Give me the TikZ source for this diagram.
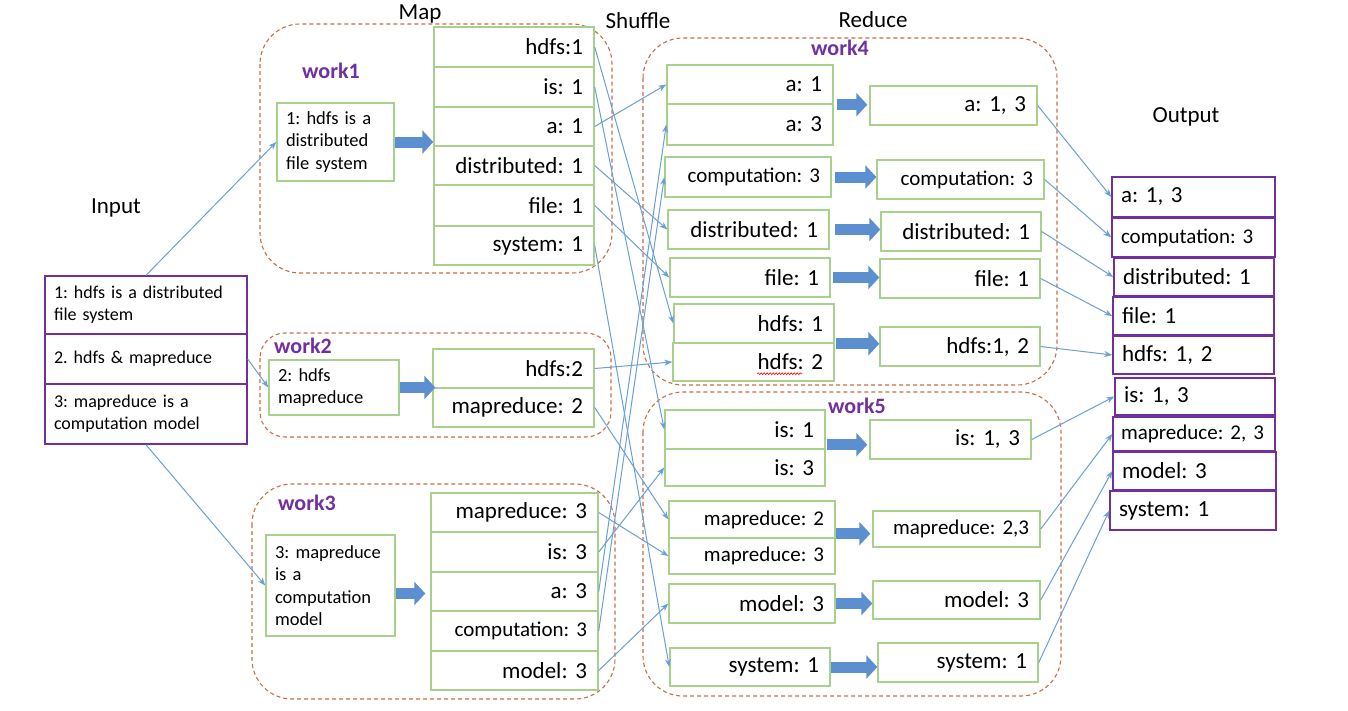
\documentclass[tikz,border=0pt]{standalone}
\usepackage{fontspec}
\setmainfont{Carlito}
\frenchspacing
\usetikzlibrary{arrows.meta,calc,decorations.pathmorphing}
\definecolor{gboxc}{HTML}{A9D18E}
\definecolor{purp}{HTML}{7030A0}
\definecolor{connc}{HTML}{6A9FD8}
\definecolor{blkc}{HTML}{5B8FD0}
\definecolor{dashc}{RGB}{200,110,70}
\newcommand\bx[9]{%
  \pgfmathsetmacro\bxW{#5-#3-2*#8}%
  \pgfmathsetmacro\bxH{#6-#4}%
  \pgfmathsetmacro\bxL{#7*1.22}%
  \node[#1, inner xsep=#8pt, text width=\bxW pt, minimum height=\bxH pt, font=\fontsize{#7}{\bxL}\selectfont\frenchspacing] (#2) at ({(#3+#5)/2},{(#4+#6)/2}) {#9};}
\begin{document}
\begin{tikzpicture}[x=1pt,y=-1pt,
  gr/.style={draw=gboxc, line width=1.4pt, fill=white, align=right, inner ysep=0pt},
  gl/.style={draw=gboxc, line width=1.4pt, fill=white, align=left, inner ysep=0pt},
  pl/.style={draw=purp, line width=1.4pt, fill=white, align=left, inner ysep=0pt},
  dbox/.style={draw=dashc, line width=1.1pt, dash pattern=on 4pt off 3pt, rounded corners=40pt},
  conn/.style={draw=connc, line width=1pt, -{Stealth[length=8pt,width=6pt]}},
  blk/.style={draw=blkc, line width=11pt, -{Triangle[length=11pt,width=23pt]}},
  lbl/.style={font=\fontsize{23}{27}\selectfont, inner sep=0pt},
  wlbl/.style={font=\fontsize{22}{26}\selectfont\bfseries, text=purp, inner sep=0pt}]
\fill[white] (0,0) rectangle (1348,710);
\useasboundingbox (0,0) rectangle (1348,710);

% containers
\draw[dbox] (260,24) rectangle (612,273);
\draw[dbox, rounded corners=25pt] (260,333) rectangle (611,437);
\draw[dbox] (252,484) rectangle (615,699);
\draw[dbox] (643,38) rectangle (1057,385);
\draw[dbox] (643,392) rectangle (1061,696);

% labels
\node[lbl] (tin) at (116,208) {Input};
\node[lbl] (tmap) at (420,14) {Map};
\node[lbl] (tshuf) at (638,21) {Shuffle};
\node[lbl] (tred) at (873,20) {Reduce};
\node[lbl] (tout) at (1186,117) {Output};
\node[wlbl] (tw1) at (331,71) {work1};
\node[wlbl] (tw2) at (303,346) {work2};
\node[wlbl] (tw3) at (307,503) {work3};
\node[wlbl] (tw4) at (840,48) {work4};
\node[wlbl] (tw5) at (857,406) {work5};

% input
\bx{pl}{in1}{45}{276}{247}{334}{18}{9}{1: hdfs is a distributed\\file system}
\bx{pl}{in2}{45}{334}{247}{384}{18}{9}{2. hdfs \& mapreduce}
\bx{pl}{in3}{45}{384}{247}{444}{18}{9}{3: mapreduce is a\\computation model}

% work inputs
\bx{gl}{w1in}{277}{103}{394}{181}{18.5}{9}{1: hdfs is a\\distributed\\file system}
\bx{gl}{w2in}{269}{360}{399}{415}{18.5}{9}{2: hdfs\\mapreduce}
\bx{gl}{w3in}{266}{535}{395}{636}{18.5}{9}{3: mapreduce\\is a\\computation\\model}

% map outputs
\bx{gr}{m1a}{434}{27}{594}{67}{23}{11}{hdfs:1}
\bx{gr}{m1b}{434}{67}{594}{107}{23}{11}{is: 1}
\bx{gr}{m1c}{434}{107}{594}{146}{23}{11}{a: 1}
\bx{gr}{m1d}{434}{146}{594}{185}{23}{11}{distributed:~1}
\bx{gr}{m1e}{434}{185}{594}{226}{23}{11}{file: 1}
\bx{gr}{m1f}{434}{226}{594}{265}{23}{11}{system: 1}
\bx{gr}{m2a}{433}{349}{594}{388}{23}{11}{hdfs:2}
\bx{gr}{m2b}{433}{388}{594}{427}{23}{11}{mapreduce:~2}
\bx{gr}{m3a}{431}{493}{598}{532}{23}{11}{mapreduce:~3}
\bx{gr}{m3b}{431}{532}{598}{572}{23}{11}{is: 3}
\bx{gr}{m3c}{431}{572}{598}{611}{23}{11}{a: 3}
\bx{gr}{m3d}{431}{611}{598}{651}{21}{11}{computation:~3}
\bx{gr}{m3e}{431}{651}{598}{690}{23}{11}{model: 3}

% shuffle work4
\bx{gr}{s4a1}{667}{65}{833}{104}{23}{11}{a: 1}
\bx{gr}{s4a3}{667}{104}{833}{145}{23}{11}{a: 3}
\bx{gr}{s4c}{665}{157}{831}{197}{21}{11}{computation:~3}
\bx{gr}{s4d}{668}{210}{829}{249}{23}{11}{distributed:~1}
\bx{gr}{s4f}{670}{258}{830}{297}{23}{11}{file: 1}
\bx{gr}{s4h1}{674}{304}{834}{343}{23}{11}{hdfs: 1}
\bx{gr}{s4h2}{673}{343}{834}{381}{23}{11}{hdfs: 2}
% reduce work4
\bx{gr}{r4a}{870}{86}{1037}{125}{23}{11}{a: 1, 3}
\bx{gr}{r4c}{877}{160}{1044}{199}{21}{11}{computation:~3}
\bx{gr}{r4d}{881}{212}{1041}{251}{23}{11}{distributed:~1}
\bx{gr}{r4f}{880}{259}{1040}{298}{23}{11}{file: 1}
\bx{gr}{r4h}{880}{327}{1040}{366}{23}{11}{hdfs:1, 2}
% shuffle work5
\bx{gr}{s5i1}{665}{410}{825}{449}{23}{11}{is: 1}
\bx{gr}{s5i3}{665}{449}{825}{486}{23}{11}{is: 3}
\bx{gr}{s5m2}{669}{501}{835}{538}{21}{11}{mapreduce:~2}
\bx{gr}{s5m3}{669}{538}{835}{574}{21}{11}{mapreduce:~3}
\bx{gr}{s5mo}{669}{584}{835}{623}{23}{11}{model: 3}
\bx{gr}{s5s}{670}{648}{830}{686}{23}{11}{system: 1}
% reduce work5
\bx{gr}{r5i}{870}{420}{1031}{459}{23}{11}{is: 1, 3}
\bx{gr}{r5m}{873}{511}{1040}{547}{21}{11}{mapreduce:~2,3}
\bx{gr}{r5mo}{873}{581}{1040}{619}{23}{11}{model: 3}
\bx{gr}{r5s}{878}{643}{1038}{682}{23}{11}{system: 1}

% output
\bx{pl}{o1}{1112}{177}{1275}{217}{23}{9}{a: 1, 3}
\bx{pl}{o2}{1112}{218}{1275}{257}{21}{9}{computation:~3}
\bx{pl}{o3}{1114}{258}{1274}{296}{23}{9}{distributed:~1}
\bx{pl}{o4}{1113}{297}{1274}{335}{23}{9}{file: 1}
\bx{pl}{o5}{1113}{336}{1274}{374}{23}{9}{hdfs: 1, 2}
\bx{pl}{o6}{1115}{378}{1275}{415}{23}{9}{is: 1, 3}
\bx{pl}{o7}{1113}{417}{1275}{451}{21}{8}{mapreduce:~2,~3}
\bx{pl}{o8}{1113}{452}{1276}{490}{23}{9}{model: 3}
\bx{pl}{o9}{1110}{491}{1276}{530}{23}{9}{system: 1}

% spell-check underline
\draw[red, line width=0.6pt, decorate, decoration={snake, amplitude=0.9pt, segment length=3pt}]
  ([shift={(85,-8)}]s4h2.south west) -- ([shift={(130,-8)}]s4h2.south west);

% block arrows
\draw[blk] (w1in.east) -- (w1in.east -| m1c.west);
\draw[blk, shorten >=-3pt] (w2in.east) -- (w2in.east -| m2a.west);
\draw[blk, shorten >=5pt] ([yshift=-8pt]w3in.east) -- ([yshift=-8pt]w3in.east -| m3c.west);
\draw[blk, shorten <=3pt, shorten >=2pt] (s4a1.south east) -- (s4a1.south east -| r4a.west);
\draw[blk, shorten <=3pt] (s4c.east) -- (s4c.east -| r4c.west);
\draw[blk, shorten <=5pt] (s4d.east) -- (s4d.east -| r4d.west);
\draw[blk, shorten <=2pt] (s4f.east) -- (s4f.east -| r4f.west);
\draw[blk, shorten <=1pt] (s4h1.south east) -- (s4h1.south east -| r4h.west);
\draw[blk, shorten <=1pt, shorten >=2pt] ([yshift=5pt]s5i1.south east) -- ([yshift=5pt]s5i1.south east -| r5i.west);
\draw[blk, shorten >=2pt] ([yshift=5pt]s5m2.south east) -- ([yshift=5pt]s5m2.south east -| r5m.west);
\draw[blk] (s5mo.east) -- (s5mo.east -| r5mo.west);
\draw[blk] (s5s.east) -- (s5s.east -| r5s.west);

% input connectors
\draw[conn] (in1.north) -- (w1in.west);
\draw[conn] (in2.east) -- (w2in.west);
\draw[conn] (in3.south) -- (w3in.west);

% shuffle connectors
\draw[conn] (m1a.east) -- (s4h1.west);
\draw[conn] (m1b.east) -- (s5i1.west);
\draw[conn] (m1c.east) -- (s4a1.west);
\draw[conn] (m1d.east) -- (s4d.west);
\draw[conn] (m1e.east) -- (s4f.west);
\draw[conn] (m1f.east) -- (s5s.west);
\draw[conn] (m2a.east) -- (s4h2.west);
\draw[conn] (m2b.east) -- (s5m2.west);
\draw[conn] (m3a.east) -- (s5m3.west);
\draw[conn] (m3b.east) -- (s5i3.west);
\draw[conn] (m3c.east) -- (s4a3.west);
\draw[conn] (m3d.east) -- (s4c.west);
\draw[conn] (m3e.east) -- (s5mo.west);

% output connectors
\draw[conn] (r4a.east) -- (o1.west);
\draw[conn] (r4c.east) -- (o2.west);
\draw[conn] (r4d.east) -- (o3.west);
\draw[conn] (r4f.east) -- (o4.west);
\draw[conn] (r4h.east) -- (o5.west);
\draw[conn] (r5i.east) -- (o6.west);
\draw[conn] (r5m.east) -- (o7.west);
\draw[conn] (r5mo.east) -- (o8.west);
\draw[conn] (r5s.east) -- (o9.west);
\end{tikzpicture}
\end{document}
